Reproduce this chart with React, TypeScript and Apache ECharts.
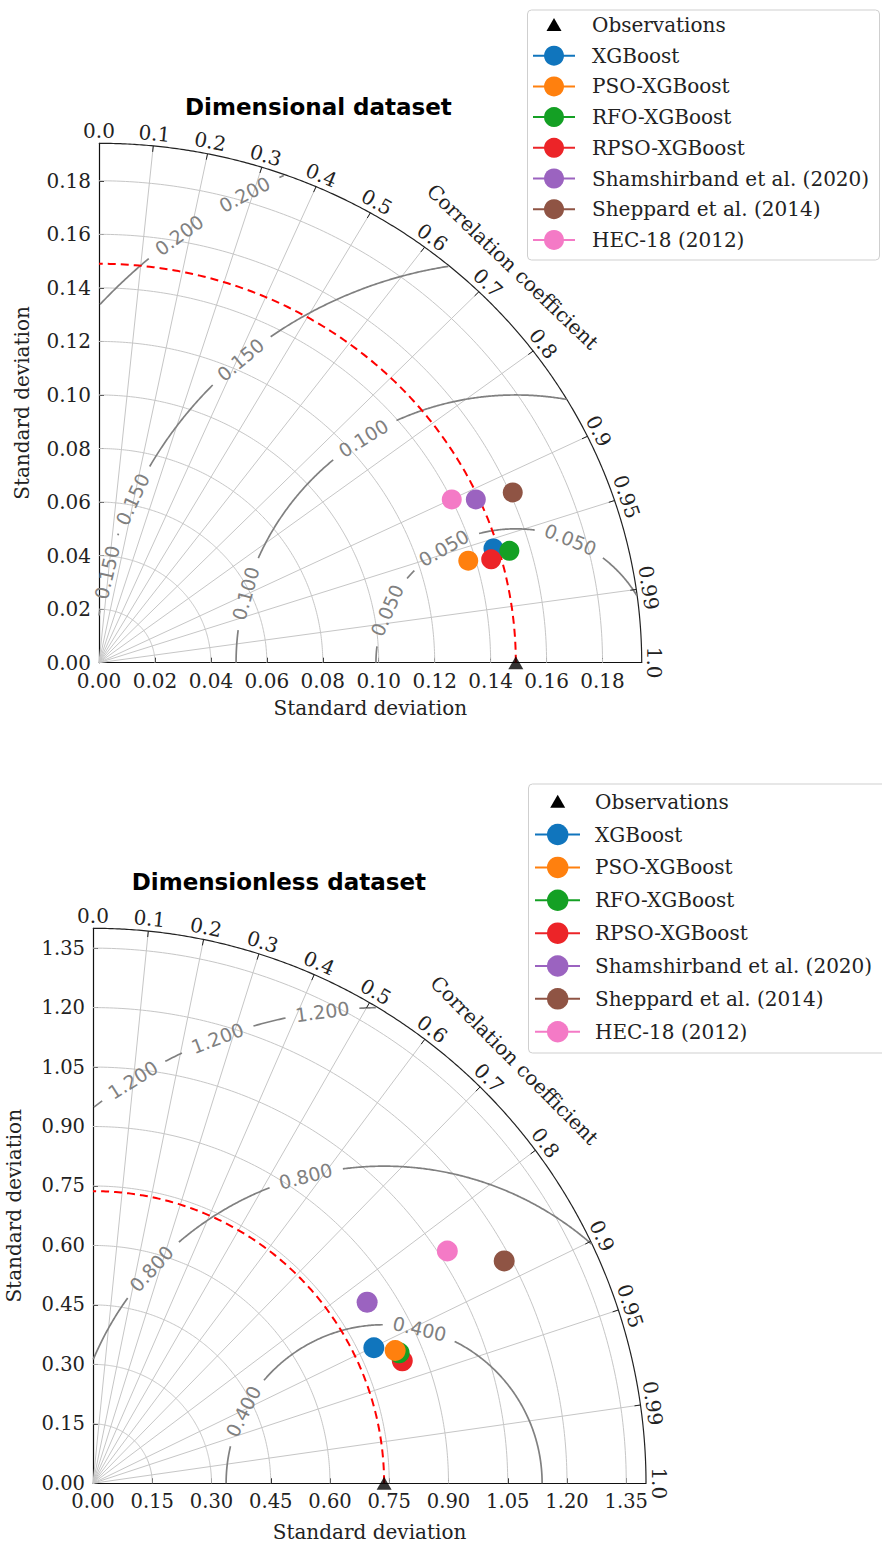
import { useEffect, useRef } from 'react';
import * as echarts from 'echarts';

// ---------------- data ----------------
const MODEL_NAMES = [
  'XGBoost',
  'PSO-XGBoost',
  'RFO-XGBoost',
  'RPSO-XGBoost',
  'Shamshirband et al. (2020)',
  'Sheppard et al. (2014)',
  'HEC-18 (2012)',
];
const MODEL_COLORS = ['#1075bd', '#ff800e', '#14a024', '#ec2428', '#9b63c0', '#8f5444', '#f47ac6'];
const OBS_NAME = 'Observations';

const CORR_TICKS = [0, 0.1, 0.2, 0.3, 0.4, 0.5, 0.6, 0.7, 0.8, 0.9, 0.95, 0.99, 1];
const CORR_TICK_LABELS = ['0.0', '0.1', '0.2', '0.3', '0.4', '0.5', '0.6', '0.7', '0.8', '0.9', '0.95', '0.99', '1.0'];

// Dimensional dataset (x = std*corr, y = std*sqrt(1-corr^2))
const DIM_TITLE = 'Dimensional dataset';
const DIM_X = [0.141, 0.132, 0.1467, 0.1402, 0.1347, 0.1479, 0.1261];
const DIM_Y = [0.0427, 0.0381, 0.0418, 0.0386, 0.061, 0.0636, 0.061];
const DIM_REF_STD = 0.149;
const DIM_MAX_STD = 0.194;
const DIM_STD_TICKS = [0, 0.02, 0.04, 0.06, 0.08, 0.1, 0.12, 0.14, 0.16, 0.18];
const DIM_RMS_LEVELS = [0.05, 0.1, 0.15, 0.2];

// Dimensionless dataset
const DL_TITLE = 'Dimensionless dataset';
const DL_X = [0.711, 0.765, 0.775, 0.783, 0.694, 1.041, 0.897];
const DL_Y = [0.342, 0.335, 0.329, 0.309, 0.457, 0.561, 0.586];
const DL_REF_STD = 0.737;
const DL_MAX_STD = 1.4;
const DL_STD_TICKS = [0, 0.15, 0.3, 0.45, 0.6, 0.75, 0.9, 1.05, 1.2, 1.35];
const DL_RMS_LEVELS = [0.4, 0.8, 1.2];

// ---------------- layout / style ----------------
const LAYOUT = [
  {
    grid: { left: 99, top: 143.3, width: 542.7, height: 519.4 },
    title: [185, 106.7],
    xNameY: 708.3,
    yNameX: 22,
    tickFont: 20,
    rmsLabelAngles: [[67, 121, 157], [123, 165], [131, 156, 167], [119, 127]],
    drawOrder: [0, 1, 2, 3, 4, 5, 6],
    markerSize: 20,
    legend: { x: 527.5, y: 10, w: 352, h: 250, row0: 25, step: 30.7, l0: 533, l1: 575, mx: 554, ms: 20, tx: 592 },
  },
  {
    grid: { left: 93, top: 928.3, width: 553, height: 555 },
    title: [131.7, 881.7],
    xNameY: 1531.5,
    yNameX: 14,
    tickFont: 19.5,
    rmsLabelAngles: [[77, 153], [104.4, 137.4], [122, 110.6, 97.5]],
    drawOrder: [0, 3, 2, 1, 4, 5, 6],
    markerSize: 21,
    legend: { x: 528.5, y: 784, w: 360, h: 269, row0: 801.7, step: 32.86, l0: 535, l1: 580, mx: 557.7, ms: 21.5, tx: 595 },
  },
];

const PANELS = [
  { title: DIM_TITLE, xs: DIM_X, ys: DIM_Y, ref: DIM_REF_STD, max: DIM_MAX_STD, ticks: DIM_STD_TICKS, rms: DIM_RMS_LEVELS },
  { title: DL_TITLE, xs: DL_X, ys: DL_Y, ref: DL_REF_STD, max: DL_MAX_STD, ticks: DL_STD_TICKS, rms: DL_RMS_LEVELS },
];

const GRID_COLOR = '#c6c6c6';
const CONTOUR_COLOR = '#808080';
const TEXT_COLOR = '#222222';
const SERIF = 'DejaVu Serif';
const SANS = 'DejaVu Sans';
const HALF_GAP = 37;
const BRK: any = ['-', '-'];

function fmtTick(v: number, ticks: number[]) {
  return ticks.some((t) => Math.abs(t - v) < 1e-6) ? v.toFixed(2) : '';
}

function axis(p: any, l: any, g: number) {
  const step = p.ticks[1] - p.ticks[0];
  return {
    type: 'value',
    gridIndex: g,
    min: 0,
    max: p.max,
    interval: step,
    axisLine: { show: true, onZero: false, lineStyle: { color: '#111', width: 1.2 } },
    axisTick: { show: true, inside: true, length: 5, customValues: p.ticks, lineStyle: { color: '#111', width: 1 } },
    axisLabel: {
      show: true,
      customValues: p.ticks,
      formatter: (v: number) => fmtTick(v, p.ticks),
      fontFamily: SERIF,
      fontSize: l.tickFont,
      color: TEXT_COLOR,
      margin: 8,
      hideOverlap: false,
    },
    splitLine: { show: false },
  };
}

function lineSeries(g: number, data: any[], color: string, width: number, extra: any = {}) {
  return {
    type: 'line',
    xAxisIndex: g,
    yAxisIndex: g,
    data,
    symbol: 'none',
    showSymbol: false,
    silent: true,
    connectNulls: false,
    clip: false,
    animation: false,
    lineStyle: { color, width, ...(extra.lineStyle || {}) },
    z: extra.z ?? 2,
  };
}

function txt(x: number, y: number, text: string, opts: any = {}) {
  const align = opts.align || 'center';
  const valign = opts.valign || 'middle';
  return {
    type: 'text',
    x,
    y,
    rotation: opts.rotation || 0,
    silent: true,
    z: 100,
    style: {
      text,
      fill: opts.fill || TEXT_COLOR,
      fontSize: opts.fontSize || 20,
      fontFamily: opts.fontFamily || SERIF,
      fontWeight: opts.fontWeight || 'normal',
      align,
      verticalAlign: valign,
      textAlign: align,
      textVerticalAlign: valign,
    },
  };
}

export default function App() {
  const ref = useRef<HTMLDivElement>(null);

  useEffect(() => {
    const chart = echarts.init(ref.current!, null, { renderer: 'svg' });
    chart.setOption({
      animation: false,
      backgroundColor: '#ffffff',
      grid: LAYOUT.map((l) => ({ ...l.grid, containLabel: false })),
      xAxis: PANELS.map((p, g) => axis(p, LAYOUT[g], g)),
      yAxis: PANELS.map((p, g) => axis(p, LAYOUT[g], g)),
    });

    const series: any[] = [];
    const graphic: any[] = [];

    PANELS.forEach((p, g) => {
      const l = LAYOUT[g];
      const toPx = (x: number, y: number): number[] => {
        const r = chart.convertToPixel({ gridIndex: g } as any, [x, y]) as any;
        if (r && isFinite(r[0]) && isFinite(r[1])) return r;
        return [l.grid.left + (x / p.max) * l.grid.width, l.grid.top + l.grid.height - (y / p.max) * l.grid.height];
      };
      const origin = toPx(0, 0);

      // std arcs
      const arcs: any[] = [];
      p.ticks.filter((t) => t > 0).forEach((t) => {
        for (let i = 0; i <= 180; i++) {
          const a = (i / 2) * (Math.PI / 180);
          arcs.push([t * Math.cos(a), t * Math.sin(a)]);
        }
        arcs.push(BRK);
      });
      series.push(lineSeries(g, arcs, GRID_COLOR, 1));

      // correlation radials
      const rad: any[] = [];
      CORR_TICKS.filter((c) => c > 0 && c < 1).forEach((c) => {
        rad.push([0, 0], [p.max * c, p.max * Math.sqrt(1 - c * c)], BRK);
      });
      series.push(lineSeries(g, rad, GRID_COLOR, 1));

      // outer arc
      const outer: any[] = [];
      for (let i = 0; i <= 360; i++) {
        const a = (i / 4) * (Math.PI / 180);
        outer.push([p.max * Math.cos(a), p.max * Math.sin(a)]);
      }
      series.push(lineSeries(g, outer, '#222', 1.2, { z: 3 }));

      // RMS contours with inline label gaps
      const cont: any[] = [];
      p.rms.forEach((R, k) => {
        const angles = l.rmsLabelAngles[k] || [];
        const labelPts = angles.map((d) => {
          const ph = (d * Math.PI) / 180;
          return toPx(p.ref + R * Math.cos(ph), R * Math.sin(ph));
        });
        for (let i = 0; i <= 720; i++) {
          const ph = (i / 4) * (Math.PI / 180);
          const x = p.ref + R * Math.cos(ph);
          const y = R * Math.sin(ph);
          const inside = x >= 0 && y >= 0 && Math.hypot(x, y) <= p.max;
          const px = toPx(x, y);
          const near = labelPts.some((lp) => Math.hypot(px[0] - lp[0], px[1] - lp[1]) < HALF_GAP);
          cont.push(inside && !near ? [x, y] : BRK);
        }
        cont.push(BRK);
        const lab = p.rms[k] < 1 ? p.rms[k].toFixed(3) : p.rms[k].toFixed(3);
        angles.forEach((d, j) => {
          const ph = (d * Math.PI) / 180;
          const c0 = labelPts[j];
          const c1 = toPx(p.ref + R * Math.cos(ph + 0.001), R * Math.sin(ph + 0.001));
          let a = Math.atan2(c1[1] - c0[1], c1[0] - c0[0]);
          if (a > Math.PI / 2) a -= Math.PI;
          if (a < -Math.PI / 2) a += Math.PI;
          graphic.push(
            txt(c0[0], c0[1], lab, { rotation: -a, fill: CONTOUR_COLOR, fontFamily: SANS, fontSize: 19 })
          );
        });
      });
      series.push(lineSeries(g, cont, CONTOUR_COLOR, 1.7, { z: 3 }));

      // reference std arc
      const refArc: any[] = [];
      for (let i = 0; i <= 180; i++) {
        const a = (i / 2) * (Math.PI / 180);
        refArc.push([p.ref * Math.cos(a), p.ref * Math.sin(a)]);
      }
      series.push(lineSeries(g, refArc, '#ff0000', 2, { z: 4, lineStyle: { type: [8, 5] } }));

      // model points
      l.drawOrder.forEach((m, j) => {
        series.push({
          type: 'scatter',
          name: MODEL_NAMES[m],
          xAxisIndex: g,
          yAxisIndex: g,
          data: [[p.xs[m], p.ys[m]]],
          symbol: 'circle',
          symbolSize: l.markerSize,
          itemStyle: { color: MODEL_COLORS[m], opacity: 1 },
          clip: false,
          silent: true,
          z: 5 + j * 0.01,
        });
      });
      // observation
      series.push({
        type: 'scatter',
        name: OBS_NAME,
        xAxisIndex: g,
        yAxisIndex: g,
        data: [[p.ref, 0]],
        symbol: 'triangle',
        symbolSize: [15, 13],
        itemStyle: { color: '#000' },
        clip: false,
        silent: true,
        z: 6,
      });

      // correlation ticks + labels
      CORR_TICKS.forEach((c, i) => {
        const th = Math.acos(c);
        const pt = toPx(p.max * Math.cos(th), p.max * Math.sin(th));
        const pt2 = toPx(p.max * Math.cos(th - 0.001), p.max * Math.sin(th - 0.001));
        const a = Math.atan2(pt2[1] - pt[1], pt2[0] - pt[0]);
        const dx = pt[0] - origin[0];
        const dy = pt[1] - origin[1];
        const n = Math.hypot(dx, dy);
        const ux = dx / n;
        const uy = dy / n;
        if (c > 0 && c < 1) {
          graphic.push({
            type: 'line',
            silent: true,
            z: 50,
            shape: { x1: pt[0], y1: pt[1], x2: pt[0] - ux * 6, y2: pt[1] - uy * 6 },
            style: { stroke: '#222', lineWidth: 1 },
          });
        }
        graphic.push(txt(pt[0] + ux * 12.5, pt[1] + uy * 12.5, CORR_TICK_LABELS[i], { rotation: -a, fontSize: 20 }));
      });

      // "Correlation coefficient"
      {
        const th = Math.PI / 4;
        const r = p.max * 1.078;
        const pt = toPx(r * Math.cos(th), r * Math.sin(th));
        const pt2 = toPx(r * Math.cos(th - 0.001), r * Math.sin(th - 0.001));
        const a = Math.atan2(pt2[1] - pt[1], pt2[0] - pt[0]);
        graphic.push(txt(pt[0], pt[1], 'Correlation coefficient', { rotation: -a, fontSize: 20 }));
      }

      // titles and axis names
      graphic.push(
        txt(l.title[0], l.title[1], p.title, { align: 'left', fontFamily: SANS, fontWeight: 'bold', fontSize: 23, fill: '#000' })
      );
      const cx = l.grid.left + l.grid.width / 2;
      const cy = l.grid.top + l.grid.height / 2;
      graphic.push(txt(cx, l.xNameY, 'Standard deviation', { fontSize: 20 }));
      graphic.push(txt(l.yNameX, cy, 'Standard deviation', { fontSize: 20, rotation: Math.PI / 2 }));

      // legend
      const lg = l.legend;
      graphic.push({
        type: 'rect',
        silent: true,
        z: 90,
        shape: { x: lg.x, y: lg.y, width: lg.w, height: lg.h, r: 4 },
        style: { fill: '#ffffff', stroke: '#cfcfcf', lineWidth: 1 },
      });
      const ty = lg.row0;
      graphic.push({
        type: 'polygon',
        silent: true,
        z: 95,
        shape: { points: [[lg.mx, ty - 7], [lg.mx - 7.5, ty + 6], [lg.mx + 7.5, ty + 6]] },
        style: { fill: '#000' },
      });
      graphic.push(txt(lg.tx, ty, OBS_NAME, { align: 'left', fontSize: 20 }));
      MODEL_NAMES.forEach((nm, i) => {
        const y = lg.row0 + lg.step * (i + 1);
        graphic.push({
          type: 'line',
          silent: true,
          z: 95,
          shape: { x1: lg.l0, y1: y, x2: lg.l1, y2: y },
          style: { stroke: MODEL_COLORS[i], lineWidth: 2 },
        });
        graphic.push({
          type: 'circle',
          silent: true,
          z: 96,
          shape: { cx: lg.mx, cy: y, r: lg.ms / 2 },
          style: { fill: MODEL_COLORS[i] },
        });
        graphic.push(txt(lg.tx, y, nm, { align: 'left', fontSize: 20 }));
      });
    });

    chart.setOption({ series, graphic });
    return () => chart.dispose();
  }, []);

  return (
    <div
      ref={ref}
      style={{ position: 'absolute', left: 0, top: 0, width: 882, height: 1545, background: '#fff' }}
    />
  );
}
